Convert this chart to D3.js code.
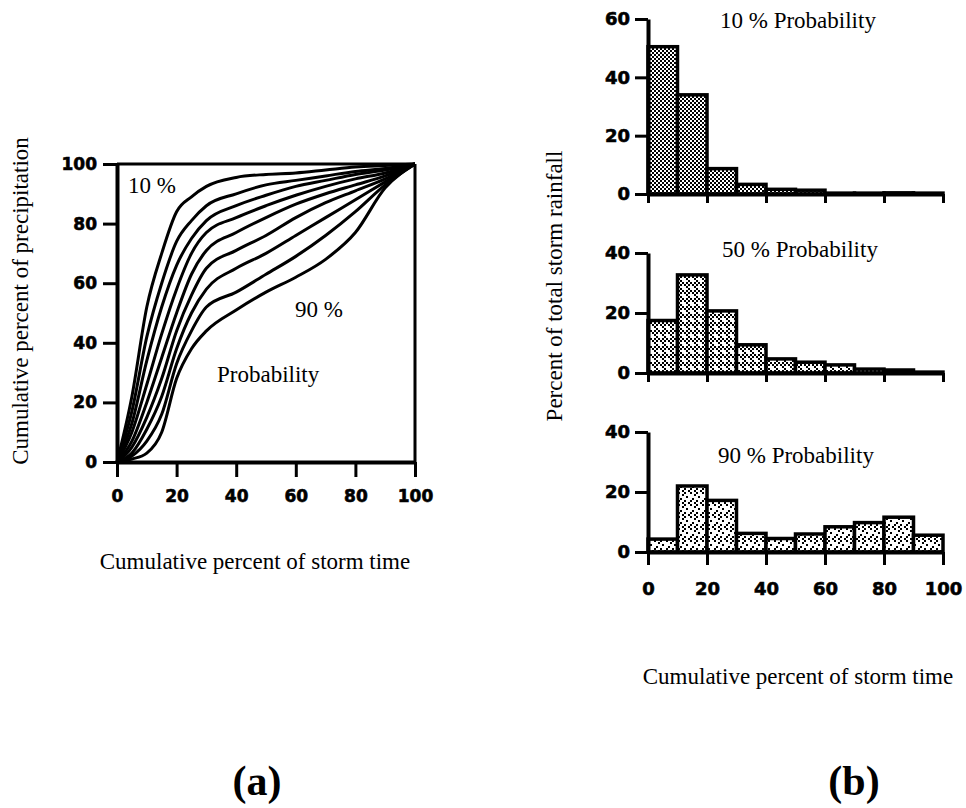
<!DOCTYPE html>
<html>
<head>
<meta charset="utf-8">
<script src="https://cdn.jsdelivr.net/npm/d3@7"></script>
<style>
body { margin: 0; background: #fff; }
.tick text { font-family: "DejaVu Sans", sans-serif; font-weight: bold; fill: #000; }
.lbl { font-family: "Liberation Serif", "Times New Roman", serif; fill: #000; }
</style>
</head>
<body>
<div id="chart"></div>
<script>
// (a) cumulative percent of storm time (x) for every curve
var timePts = [0, 5, 10, 15, 20, 25, 30, 40, 50, 60, 70, 80, 90, 100];
// cumulative percent of precipitation, one array per probability curve
var p10 = [0, 22, 52, 70, 84, 89, 92.5, 95.5, 96.5, 97, 98, 99, 99.5, 100];
var p20 = [0, 17, 42, 60, 74, 81, 86, 90, 93, 94.5, 96, 97.5, 98.5, 100];
var p30 = [0, 13, 34, 52, 66, 75, 81, 86, 89.5, 92.5, 94.5, 96.5, 98, 100];
var p40 = [0, 10, 26, 43, 58, 70, 77, 82, 86, 89.5, 92.5, 95, 97, 100];
var p50 = [0, 7, 20, 35, 50, 63, 71, 77, 82, 86.5, 90, 93, 96, 100];
var p60 = [0, 5, 15, 28, 44, 56, 65, 71, 76, 82, 87, 91, 95, 100];
var p70 = [0, 3, 11, 22, 38, 50, 58, 65, 70, 76, 82, 88, 94, 100];
var p80 = [0, 2, 7, 16, 33, 44, 52, 57, 63, 69, 76, 84, 93, 100];
var p90 = [0, 1, 3, 10, 28, 38, 44, 51, 57, 62, 68, 77, 92, 100];
var curves = [p10, p20, p30, p40, p50, p60, p70, p80, p90];
var axisTicks = [0, 20, 40, 60, 80, 100];

// (b) percent of total storm rainfall in each 10 % time bin
var binStarts = [0, 10, 20, 30, 40, 50, 60, 70, 80, 90];
var hist10 = [50.5, 34, 8.7, 3.3, 1.6, 1.3, 0.3, 0.3, 0.4, 0.3];
var hist50 = [17.5, 32.7, 20.7, 9.4, 4.7, 3.6, 2.7, 1.3, 1.0, 0.3];
var hist90 = [4.3, 22, 17.2, 6.2, 4.5, 6, 8.4, 9.8, 11.6, 5.6];
var histTitles = ['10 % Probability', '50 % Probability', '90 % Probability'];

var svg = d3.select('#chart').append('svg')
    .attr('width', 966)
    .attr('height', 808);
svg.append('rect').attr('width', 966).attr('height', 808).attr('fill', '#fff');

// stipple patterns for the bars (dense -> sparse), dots on a 2px grid
var defs = svg.append('defs');
function stipple(id, size, cells) {
    var p = defs.append('pattern')
        .attr('id', id)
        .attr('patternUnits', 'userSpaceOnUse')
        .attr('width', size).attr('height', size);
    p.append('rect').attr('width', size).attr('height', size).attr('fill', '#fff');
    cells.forEach(c => {
        p.append('rect').attr('x', c[0] * 2).attr('y', c[1] * 2).attr('width', 2).attr('height', 2).attr('fill', '#000');
    });
}
stipple('dots1', 4, [[0, 0], [1, 1]]);
stipple('dots2', 8, [[0, 0], [1, 1], [3, 1], [0, 2], [2, 2], [3, 3]]);
stipple('dots3', 12, [[0, 0], [3, 0], [5, 1], [1, 2], [4, 3], [0, 4], [2, 5], [5, 5], [3, 4]]);

// ---------- panel (a) ----------
var xA = d3.scaleLinear().domain([0, 100]).range([117, 415]);
var yA = d3.scaleLinear().domain([0, 100]).range([462, 164]);

// frame top / right
svg.append('line').attr('x1', xA(0)).attr('x2', xA(100)).attr('y1', yA(100)).attr('y2', yA(100))
    .attr('stroke', '#000').attr('stroke-width', 3);
svg.append('line').attr('x1', xA(100)).attr('x2', xA(100)).attr('y1', yA(0)).attr('y2', yA(100))
    .attr('stroke', '#000').attr('stroke-width', 3);

var line = d3.line()
    .x((d, i) => xA(timePts[i]))
    .y(d => yA(d))
    .curve(d3.curveMonotoneX);

svg.append('g').selectAll('path')
    .data(curves)
    .enter().append('path')
    .attr('d', line)
    .attr('fill', 'none')
    .attr('stroke', '#000')
    .attr('stroke-width', 3)
    .attr('stroke-linejoin', 'round');

var gx = svg.append('g')
    .attr('transform', 'translate(0,' + yA(0) + ')')
    .call(d3.axisBottom(xA).tickValues(axisTicks).tickSize(15).tickSizeOuter(0).tickPadding(13));
var gy = svg.append('g')
    .attr('transform', 'translate(' + xA(0) + ',0)')
    .call(d3.axisLeft(yA).tickValues(axisTicks).tickSize(14).tickSizeOuter(0).tickPadding(6));
[gx, gy].forEach(g => {
    g.select('.domain').attr('stroke-width', 4);
    g.selectAll('.tick line').attr('stroke-width', 3);
    g.selectAll('.tick text').style('font-size', '17px').style('stroke', '#000').style('stroke-width', 0.6);
});

svg.append('text').attr('class', 'lbl').attr('x', 128).attr('y', 193).style('font-size', '23px').text('10 %');
svg.append('text').attr('class', 'lbl').attr('x', 295).attr('y', 317).style('font-size', '23px').text('90 %');
svg.append('text').attr('class', 'lbl').attr('x', 217).attr('y', 382).style('font-size', '23px').text('Probability');

svg.append('text').attr('class', 'lbl')
    .attr('text-anchor', 'middle')
    .attr('x', 255).attr('y', 569)
    .style('font-size', '23px')
    .text('Cumulative percent of storm time');
svg.append('text').attr('class', 'lbl')
    .attr('text-anchor', 'middle')
    .attr('transform', 'translate(28,301) rotate(-90)')
    .style('font-size', '23px')
    .text('Cumulative percent of precipitation');

// ---------- panel (b) ----------
var xB = d3.scaleLinear().domain([0, 100]).range([648, 943]);
var panels = [
    { data: hist10, max: 60, y0: 194, y1: 19, ticks: [0, 20, 40, 60], fill: 'url(#dots1)', title: 0, ty: 28, tx: 720, xt: 9, labels: false },
    { data: hist50, max: 40, y0: 373, y1: 253, ticks: [0, 20, 40], fill: 'url(#dots2)', title: 1, ty: 257, tx: 722, xt: 9, labels: false },
    { data: hist90, max: 40, y0: 552, y1: 432, ticks: [0, 20, 40], fill: 'url(#dots3)', title: 2, ty: 463, tx: 718, xt: 13, labels: true }
];

panels.forEach(p => {
    var y = d3.scaleLinear().domain([0, p.max]).range([p.y0, p.y1]);
    var g = svg.append('g');
    g.selectAll('rect')
        .data(p.data)
        .enter().append('rect')
        .attr('x', (d, i) => xB(binStarts[i]))
        .attr('width', xB(10) - xB(0))
        .attr('y', d => y(d))
        .attr('height', d => y(0) - y(d))
        .attr('fill', p.fill)
        .attr('stroke', '#000')
        .attr('stroke-width', 3.5);

    var ax = svg.append('g')
        .attr('transform', 'translate(0,' + y(0) + ')')
        .call(d3.axisBottom(xB).tickValues(axisTicks).tickSize(p.xt).tickSizeOuter(0).tickPadding(17));
    if (!p.labels) ax.selectAll('.tick text').remove();
    var ay = svg.append('g')
        .attr('transform', 'translate(' + xB(0) + ',0)')
        .call(d3.axisLeft(y).tickValues(p.ticks).tickSize(13).tickSizeOuter(0).tickPadding(5));
    [ax, ay].forEach(a => {
        a.select('.domain').attr('stroke-width', 4);
        a.selectAll('.tick line').attr('stroke-width', 3);
        a.selectAll('.tick text').style('font-size', '18px').style('stroke', '#000').style('stroke-width', 0.6);
    });

    svg.append('text').attr('class', 'lbl')
        .attr('x', p.tx).attr('y', p.ty)
        .style('font-size', '23px')
        .text(histTitles[p.title]);
});

svg.append('text').attr('class', 'lbl')
    .attr('text-anchor', 'middle')
    .attr('transform', 'translate(562,286) rotate(-90)')
    .style('font-size', '23px')
    .text('Percent of total storm rainfall');
svg.append('text').attr('class', 'lbl')
    .attr('text-anchor', 'middle')
    .attr('x', 798).attr('y', 684)
    .style('font-size', '23px')
    .text('Cumulative percent of storm time');

// figure letters
svg.append('text').attr('class', 'lbl')
    .attr('text-anchor', 'middle')
    .attr('x', 257).attr('y', 795)
    .style('font-size', '42px').style('font-weight', 'bold')
    .text('(a)');
svg.append('text').attr('class', 'lbl')
    .attr('text-anchor', 'middle')
    .attr('x', 854).attr('y', 795)
    .style('font-size', '42px').style('font-weight', 'bold')
    .text('(b)');
</script>
</body>
</html>
